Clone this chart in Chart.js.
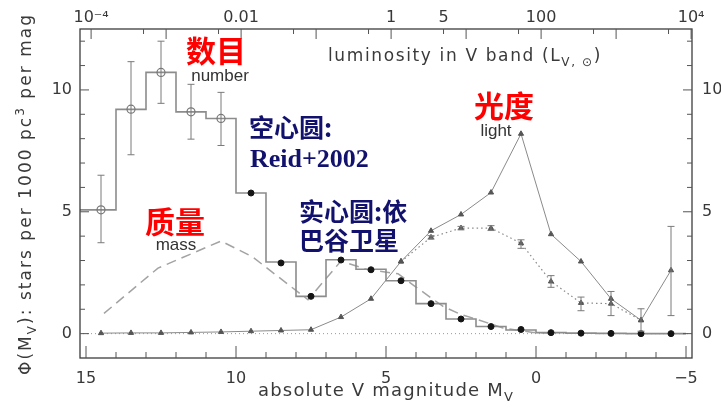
<!DOCTYPE html>
<html>
<head>
<meta charset="utf-8">
<script src="https://cdn.jsdelivr.net/npm/chart.js@4.4.1/dist/chart.umd.min.js"></script>
<style>
  html, body { margin: 0; padding: 0; background: #fff; }
  #wrap { width: 721px; height: 415px; }
</style>
</head>
<body>
<div id="wrap"><canvas id="lfChart" width="721" height="415"></canvas></div>
<script>
// Luminosity function of nearby stars: number / light / mass per magnitude bin

// histogram (bin left edges, value held until next edge)
const histEdges = [15.5, 14, 13, 12, 11, 10, 9, 8, 7, 6, 5, 4, 3, 2, 1, 0, -1, -2, -3, -4, -5];
const histVals  = [5.08, 9.2, 10.72, 9.1, 8.83, 5.77, 2.94, 1.53, 3.03, 2.64, 2.17, 1.23, 0.6, 0.29, 0.15, 0.04, 0.02, 0.01, 0, 0, 0];

// open circles: Reid+2002
const reidMag  = [14.5, 13.5, 12.5, 11.5, 10.5];
const reidVals = [5.08, 9.21, 10.72, 9.1, 8.83];
const reidLo   = [3.73, 7.34, 9.45, 7.98, 7.72];
const reidHi   = [6.5, 11.16, 12.0, 10.23, 9.9];

// filled circles: Hipparcos
const hipMag  = [9.5, 8.5, 7.5, 6.5, 5.5, 4.5, 3.5, 2.5, 1.5, 0.5, -0.5, -1.5, -2.5, -3.5, -4.5];
const hipVals = [5.77, 2.9, 1.53, 3.02, 2.62, 2.17, 1.23, 0.6, 0.29, 0.17, 0.04, 0.02, 0.01, 0, 0];

// light (solid line, triangles)
const lightMag  = [14.5, 13.5, 12.5, 11.5, 10.5, 9.5, 8.5, 7.5, 6.5, 5.5, 4.5, 3.5, 2.5, 1.5, 0.5, -0.5, -1.5, -2.5, -3.5, -4.5];
const lightVals = [0.02, 0.03, 0.03, 0.05, 0.07, 0.1, 0.13, 0.16, 0.68, 1.43, 2.96, 4.22, 4.89, 5.79, 8.2, 4.08, 2.96, 1.43, 0.55, 2.6];
const lightErrMag = [-4.5];
const lightErrLo  = [0.74];
const lightErrHi  = [4.4];

// light, Hipparcos-only (dotted line, triangles)
const dotMag  = [4.5, 3.5, 2.5, 1.5, 0.5, -0.5, -1.5, -2.5, -3.5];
const dotVals = [2.96, 3.95, 4.33, 4.33, 3.71, 2.14, 1.26, 1.23, 0.55];
const dotLo   = [null, 3.88, 4.26, 4.23, 3.5, 1.9, 0.94, 0.74, 0.1];
const dotHi   = [null, 4.02, 4.4, 4.43, 3.85, 2.38, 1.5, 1.73, 1.02];

// mass (dashed)
const massMag  = [14.4, 12.6, 10.5, 9.45, 7.6, 6.5, 5.6, 4.6, 4.0, 3.1, 2.5, 2.0, 1.1, 0.1, -0.5];
const massVals = [0.83, 2.69, 3.8, 3.15, 1.39, 2.98, 2.62, 2.46, 1.91, 1.12, 0.78, 0.6, 0.23, 0.05, 0.02];

// axis ticks
const magTicks = [15, 14, 13, 12, 11, 10, 9, 8, 7, 6, 5, 4, 3, 2, 1, 0, -1, -2, -3, -4, -5];
const phiTicks = [0, 1, 2, 3, 4, 5, 6, 7, 8, 9, 10, 11, 12];

// top axis: luminosity in V band (solar units)
const lumTicks  = [1e-4, 5e-4, 1e-3, 5e-3, 1e-2, 5e-2, 0.1, 0.5, 1, 5, 10, 50, 100, 500, 1e3, 5e3, 1e4];
const lumLabels = ['10⁻⁴', '', '', '', '0.01', '', '', '', '1', '5', '', '', '100', '', '', '', '10⁴'];
const SUN_MV = 4.83;
const magOfLum = L => SUN_MV - 2.5 * Math.log10(L);

const xy = (xs, ys) => xs.map((v, i) => ({ x: v, y: ys[i] }));
const isFive = v => Math.round(v) % 5 === 0;
const magLabel = v => isFive(v) ? (v < 0 ? '−' + Math.abs(v) : String(v)) : '';

Chart.defaults.font.family = "'DejaVu Sans', sans-serif";

function drawRich(ctx, parts, cx, cy, rot, size, width) {
    // parts: [{t, sub, sup}] drawn centred on cx, baseline cy, stretched to width
    const fontFor = p => (p.sub || p.sup ? Math.round(size * 0.7) : size) + "px 'DejaVu Sans'";
    ctx.save();
    ctx.translate(cx, cy);
    ctx.rotate(rot);
    ctx.letterSpacing = '0px';
    let raw = 0, chars = 0;
    parts.forEach(p => { ctx.font = fontFor(p); raw += ctx.measureText(p.t).width; chars += p.t.length; });
    const sp = Math.max(0, (width - raw) / chars);
    ctx.letterSpacing = sp.toFixed(2) + 'px';
    let x = -width / 2;
    ctx.textAlign = 'left';
    ctx.textBaseline = 'alphabetic';
    parts.forEach(p => {
        ctx.font = fontFor(p);
        const dy = p.sub ? size * 0.3 : (p.sup ? -size * 0.4 : 0);
        ctx.fillText(p.t, x, dy);
        x += ctx.measureText(p.t).width;
    });
    ctx.restore();
}

const decor = {
    id: 'decor',
    afterDatasetsDraw(chart) {
        const { ctx, scales: { x, y } } = chart;
        ctx.save();
        ctx.strokeStyle = '#7a7a7a';
        ctx.lineWidth = 1;
        const bars = (mags, lo, hi) => mags.forEach((m, i) => {
            if (lo[i] == null) return;
            const px = x.getPixelForValue(m);
            const p1 = y.getPixelForValue(lo[i]), p2 = y.getPixelForValue(hi[i]);
            ctx.beginPath();
            ctx.moveTo(px, p1); ctx.lineTo(px, p2);
            ctx.moveTo(px - 3.5, p1); ctx.lineTo(px + 3.5, p1);
            ctx.moveTo(px - 3.5, p2); ctx.lineTo(px + 3.5, p2);
            ctx.stroke();
        });
        bars(reidMag, reidLo, reidHi);
        bars(dotMag, dotLo, dotHi);
        bars(lightErrMag, lightErrLo, lightErrHi);
        ctx.restore();
    },
    afterDraw(chart) {
        const { ctx, chartArea: a, scales: { x, y, x2 } } = chart;
        ctx.save();
        // frame
        ctx.strokeStyle = '#3c3c3c';
        ctx.lineWidth = 1.3;
        ctx.strokeRect(a.left, a.top, a.right - a.left, a.bottom - a.top);
        // inward ticks
        ctx.lineWidth = 1;
        ctx.strokeStyle = '#555';
        ctx.beginPath();
        magTicks.forEach(v => {
            const px = x.getPixelForValue(v), len = isFive(v) ? 12 : 6;
            ctx.moveTo(px, a.bottom); ctx.lineTo(px, a.bottom - len);
        });
        phiTicks.forEach(v => {
            const py = y.getPixelForValue(v), len = isFive(v) ? 9 : 5;
            ctx.moveTo(a.left, py); ctx.lineTo(a.left + len, py);
            ctx.moveTo(a.right, py); ctx.lineTo(a.right - len, py);
        });
        lumTicks.forEach(L => {
            const px = x2.getPixelForValue(magOfLum(L));
            const len = Number.isInteger(Math.round(Math.log10(L) * 1e6) / 1e6) ? 10 : 5;
            ctx.moveTo(px, a.top); ctx.lineTo(px, a.top + len);
        });
        ctx.stroke();

        // axis titles
        ctx.fillStyle = '#3a3a3a';
        drawRich(ctx, [{ t: 'absolute V magnitude M' }, { t: 'V', sub: true }], 386, 396, 0, 18, 256);
        drawRich(ctx, [{ t: 'luminosity in V band (L' }, { t: 'V, ⊙', sub: true }, { t: ')' }], 465, 61, 0, 17, 274);
        drawRich(ctx, [{ t: 'Φ(M' }, { t: 'V', sub: true }, { t: '): stars per 1000 pc' }, { t: '3', sup: true }, { t: ' per mag' }],
            31, 194, -Math.PI / 2, 17, 362);

        // annotations
        ctx.textBaseline = 'middle';
        ctx.textAlign = 'center';
        ctx.fillStyle = '#ff0000';
        ctx.font = "bold 30px 'Noto Sans CJK SC'";
        ctx.fillText('数目', 216, 51);
        ctx.fillText('光度', 504, 106);
        ctx.fillText('质量', 175, 222);
        ctx.fillStyle = '#333';
        ctx.font = "17px 'Liberation Sans'";
        ctx.textBaseline = 'alphabetic';
        ctx.fillText('number', 220, 81);
        ctx.fillText('light', 496, 136);
        ctx.fillText('mass', 176, 250);

        ctx.textAlign = 'left';
        ctx.fillStyle = '#12126e';
        ctx.textBaseline = 'middle';
        ctx.font = "bold 25px 'Noto Sans CJK SC'";
        ctx.fillText('空心圆:', 249, 127);
        ctx.fillText('实心圆:依', 299, 211);
        ctx.fillText('巴谷卫星', 299, 240);
        ctx.textBaseline = 'alphabetic';
        ctx.font = "bold 26px 'Liberation Serif'";
        ctx.fillText('Reid+2002', 250, 167);
        ctx.restore();
    }
};

const tickFont = { size: 16 };
const tickColor = '#383838';
const noGrid = { display: false, drawTicks: false };

new Chart(document.getElementById('lfChart'), {
    type: 'line',
    data: {
        datasets: [
            { label: 'Hipparcos', data: xy(hipMag, hipVals), showLine: false,
              pointRadius: 3, pointBackgroundColor: '#151515', pointBorderColor: '#151515', pointBorderWidth: 1 },
            { label: 'Reid+2002', data: xy(reidMag, reidVals), showLine: false,
              pointRadius: 4, pointBackgroundColor: 'rgba(0,0,0,0)', pointBorderColor: '#777', pointBorderWidth: 1.2 },
            { label: 'light', data: xy(lightMag, lightVals), borderColor: '#8a8a8a', borderWidth: 1,
              pointStyle: 'triangle', pointRadius: 3, pointBackgroundColor: '#555', pointBorderColor: '#555', pointBorderWidth: 1 },
            { label: 'light (Hipparcos)', data: xy(dotMag, dotVals), borderColor: '#8a8a8a', borderWidth: 1.2,
              borderDash: [1.5, 3], pointStyle: 'triangle', pointRadius: 3,
              pointBackgroundColor: '#555', pointBorderColor: '#555', pointBorderWidth: 1 },
            { label: 'number', data: xy(histEdges, histVals), stepped: true, borderColor: '#8c8c8c',
              borderWidth: 1.6, pointRadius: 0 },
            { label: 'mass', data: xy(massMag, massVals), borderColor: '#a3a3a3', borderWidth: 1.5,
              borderDash: [10, 6], pointRadius: 0 },
            { label: 'zero', data: [{ x: 15.5, y: 0 }, { x: -5.5, y: 0 }], borderColor: '#9a9a9a', borderWidth: 1,
              borderDash: [1, 3], pointRadius: 0 }
        ]
    },
    options: {
        responsive: false,
        animation: false,
        layout: { padding: 0 },
        plugins: { legend: { display: false }, tooltip: { enabled: false } },
        scales: {
            x: {
                type: 'linear', position: 'bottom', min: -5.2, max: 15.2, reverse: true,
                grid: noGrid, border: { display: false },
                ticks: { autoSkip: false, maxRotation: 0, padding: 11, color: tickColor, font: tickFont,
                    callback: v => magLabel(v) },
                afterBuildTicks: s => { s.ticks = magTicks.map(v => ({ value: v })); },
                afterFit: s => { s.height = 57; }
            },
            x2: {
                type: 'linear', position: 'top', min: -5.2, max: 15.2, reverse: true,
                grid: noGrid, border: { display: false },
                ticks: { autoSkip: false, maxRotation: 0, padding: 2, color: tickColor, font: tickFont,
                    callback: (v, i) => lumLabels[i] },
                afterBuildTicks: s => { s.ticks = lumTicks.map(L => ({ value: magOfLum(L) })); },
                afterFit: s => { s.height = 29; }
            },
            y: {
                type: 'linear', position: 'left', min: -1, max: 12.5,
                grid: noGrid, border: { display: false },
                ticks: { autoSkip: false, padding: 8, color: tickColor, font: tickFont,
                    callback: v => isFive(v) ? String(v) : '' },
                afterBuildTicks: s => { s.ticks = phiTicks.map(v => ({ value: v })); },
                afterFit: s => { s.width = 80; }
            },
            y2: {
                type: 'linear', position: 'right', min: -1, max: 12.5,
                grid: noGrid, border: { display: false },
                ticks: { autoSkip: false, padding: 10, color: tickColor, font: tickFont,
                    callback: v => isFive(v) ? String(v) : '' },
                afterBuildTicks: s => { s.ticks = phiTicks.map(v => ({ value: v })); },
                afterFit: s => { s.width = 29; }
            }
        }
    },
    plugins: [decor]
});
</script>
</body>
</html>
